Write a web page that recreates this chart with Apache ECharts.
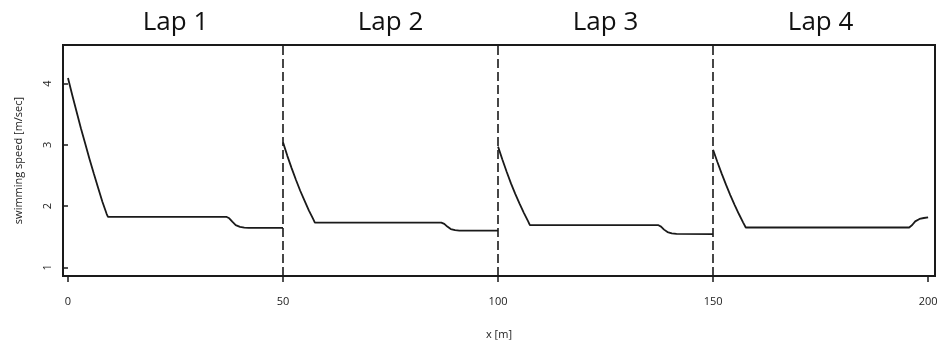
<!DOCTYPE html>
<html>
<head>
<meta charset="utf-8">
<script src="https://cdn.jsdelivr.net/npm/echarts@6/dist/echarts.min.js"></script>
<style>html,body{margin:0;padding:0;background:#fff;}#c{width:941px;height:344px;}</style>
</head>
<body>
<div id="c"></div>
<script>
// Lap segments: distance [m] and swimming speed [m/sec]
var lap1X = [0, 1, 2, 3, 4, 5, 6, 7, 8, 9, 9.3, 36.8, 37.5, 38.2, 39, 40, 41, 42, 50];
var lap1Y = [4.09, 3.81, 3.54, 3.27, 3.02, 2.77, 2.53, 2.30, 2.07, 1.87, 1.825, 1.825, 1.80, 1.745, 1.69, 1.66, 1.648, 1.645, 1.645];
var lap2X = [50, 51, 52, 53, 54, 55, 56, 57, 57.4, 86.8, 87.5, 88.2, 89, 90, 91, 100];
var lap2Y = [3.04, 2.82, 2.62, 2.43, 2.25, 2.09, 1.93, 1.79, 1.73, 1.73, 1.71, 1.665, 1.625, 1.607, 1.60, 1.60];
var lap3X = [100, 101, 102, 103, 104, 105, 106, 107, 107.4, 137.2, 137.9, 138.6, 139.4, 140.4, 141.5, 150];
var lap3Y = [2.97, 2.76, 2.56, 2.37, 2.20, 2.04, 1.89, 1.75, 1.69, 1.69, 1.665, 1.615, 1.575, 1.553, 1.545, 1.543];
var lap4X = [150, 151, 152, 153, 154, 155, 156, 157, 157.6, 195.6, 196.3, 197, 198, 199, 200];
var lap4Y = [2.92, 2.72, 2.53, 2.35, 2.18, 2.02, 1.87, 1.73, 1.65, 1.65, 1.69, 1.75, 1.79, 1.805, 1.815];
var lapNames = ['Lap 1', 'Lap 2', 'Lap 3', 'Lap 4'];
var lapCenters = [25, 75, 125, 175];
var lapBounds = [50, 100, 150];
var xTicks = [0, 50, 100, 150, 200];
var yTicks = [1, 2, 3, 4];

function pairs(xs, ys) { return xs.map(function (x, i) { return [x, ys[i]]; }); }

var chart = echarts.init(document.getElementById('c'), null, {renderer: 'canvas'});
var font = '"Open Sans", "Noto Sans", sans-serif';
var lineCol = '#1a1a1a';
var laps = [pairs(lap1X, lap1Y), pairs(lap2X, lap2Y), pairs(lap3X, lap3Y), pairs(lap4X, lap4Y)];
var series = laps.map(function (d, i) {
  var s = {
    type: 'line', data: d, showSymbol: false, smooth: false,
    lineStyle: {color: lineCol, width: 1.8}, silent: true, animation: false, z: 3
  };
  if (i === 0) {
    s.markLine = {
      silent: true, symbol: 'none', animation: false,
      label: {show: false},
      lineStyle: {color: lineCol, type: [9, 4], width: 1.6},
      data: lapBounds.map(function (b) { return {xAxis: b}; })
    };
  }
  return s;
});

chart.setOption({
  animation: false,
  backgroundColor: '#fff',
  grid: {left: 63, top: 45, width: 872, height: 231, containLabel: false, outerBoundsMode: 'none',
    show: true, borderColor: lineCol, borderWidth: 2, backgroundColor: 'transparent'},
  xAxis: {
    type: 'value', min: -1.16, max: 201.6,
    name: 'x [m]', nameLocation: 'middle', nameGap: 53,
    nameTextStyle: {fontFamily: font, fontSize: 11, color: '#222'},
    axisLine: {show: false},
    splitLine: {show: false},
    axisTick: {show: true, inside: false, length: 6, customValues: xTicks, lineStyle: {color: lineCol, width: 1.5}},
    axisLabel: {customValues: xTicks, margin: 20, fontFamily: font, fontSize: 11, color: '#222'}
  },
  yAxis: {
    type: 'value', min: 0.858, max: 4.63,
    name: 'swimming speed [m/sec]', nameLocation: 'middle', nameGap: 39, nameRotate: 90,
    nameTextStyle: {fontFamily: font, fontSize: 11, color: '#222'},
    axisLine: {show: false},
    splitLine: {show: false},
    axisTick: {show: true, inside: false, length: 5, customValues: yTicks, lineStyle: {color: lineCol, width: 1.5}},
    axisLabel: {customValues: yTicks, rotate: 90, margin: 10, fontFamily: font, fontSize: 11, color: '#222'}
  },
  series: series
});

var texts = lapNames.map(function (n, i) {
  var p = chart.convertToPixel({gridIndex: 0}, [lapCenters[i], 1]);
  return {
    type: 'text', x: p[0], y: 23,
    style: {text: n, fontFamily: font, fontSize: 26, fill: '#111', textAlign: 'center', textVerticalAlign: 'middle'}
  };
});
chart.setOption({graphic: texts});
</script>
</body>
</html>
